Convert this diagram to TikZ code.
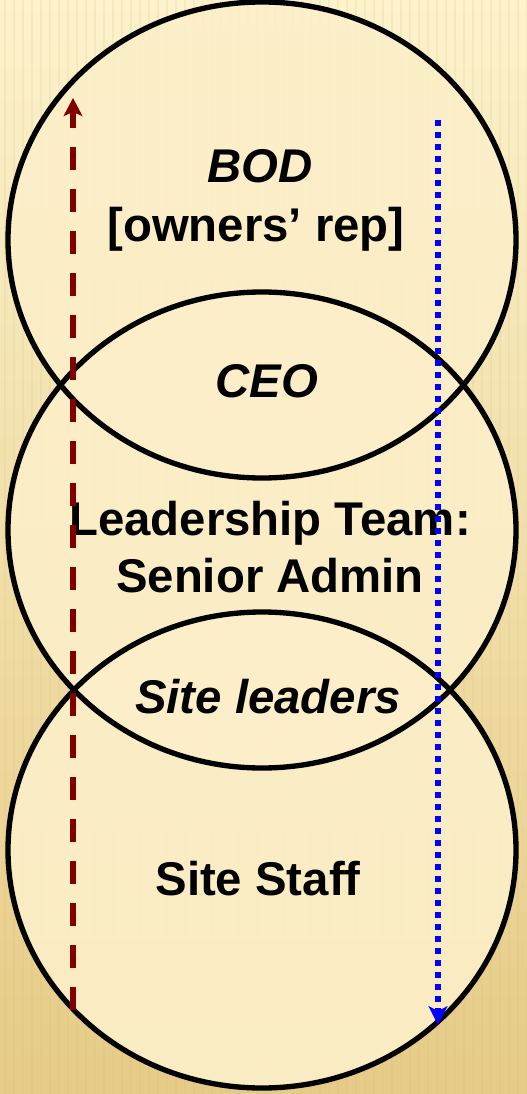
\documentclass[tikz,border=0pt]{standalone}
\usepackage{fontspec}
\setmainfont{Liberation Sans}
\usetikzlibrary{arrows.meta, shapes.geometric}
\definecolor{cream}{HTML}{FCEFC9}
\definecolor{paperlight}{HTML}{FCF2CC}
\definecolor{papermid}{HTML}{F5E3AE}
\definecolor{paperdark}{HTML}{E6CB87}
\definecolor{grain}{HTML}{D8BB70}
\definecolor{upred}{HTML}{800000}

\begin{document}
\begin{tikzpicture}[
                x=0.75pt, y=-0.75pt,
                disc/.style={ellipse, fill=cream, fill opacity=0.9, minimum width=381pt, minimum height=357pt, inner sep=0pt},
                rim/.style={ellipse, draw=black, line width=4pt, minimum width=381pt, minimum height=357pt, inner sep=0pt},
                tag/.style={anchor=base, inner sep=0pt, font=\fontsize{35.5}{42}\selectfont\bfseries},
                tagit/.style={tag, font=\fontsize{35.5}{42}\selectfont\bfseries\itshape},
                stripe/.style={draw=grain, opacity=0.15, line width=1.5pt},
                upflow/.style={draw=upred, line width=5pt, dash pattern=on 17.25pt off 14.25pt, -{Stealth[length=13.5pt, width=14pt, inset=3pt]}},
                downflow/.style={draw=blue, line width=4.6pt, dash pattern=on 4.5pt off 4.5pt, -{Stealth[length=14pt, width=14pt, inset=3.5pt]}}
            ]
                % Background
                \useasboundingbox (0,0) rectangle (527,1094);
                \shade[top color=paperlight, middle color=papermid, bottom color=paperdark] (0,0) rectangle (527,1094);
                \foreach \x in {5,14,...,527}
                    \draw[stripe] (\x,0) -- (\x,1094);

                % Circles
                \node[disc] (bod) at (262,240) {};
                \node[disc] (team) at (262,530) {};
                \node[disc] (staff) at (262,850) {};
                \foreach \ring in {bod, team, staff}
                    \node[rim] at (\ring) {};

                % Labels
                \node[tagit] (bodtxt) at (260,183) {BOD};
                \node[tag] (reptxt) at (256,242) {[owners’ rep]};
                \node[tagit] (ceotxt) at (267,397) {CEO};
                \node[tag] (teamtxt) at (270,535) {Leadership Team:};
                \node[tag] (admintxt) at (270,592) {Senior Admin};
                \node[tagit] (sitetxt) at (268,713) {Site leaders};
                \node[tag] (stafftxt) at (258,895) {Site Staff};

                % Flows
                \coordinate (upfoot) at (73,1010);
                \coordinate (uphead) at (73,98);
                \coordinate (downtop) at (438,120);
                \coordinate (downhead) at (438,1025);
                \draw[upflow] (upfoot) -- (uphead);
                \draw[downflow] (downtop) -- (downhead);
            \end{tikzpicture}
\end{document}
